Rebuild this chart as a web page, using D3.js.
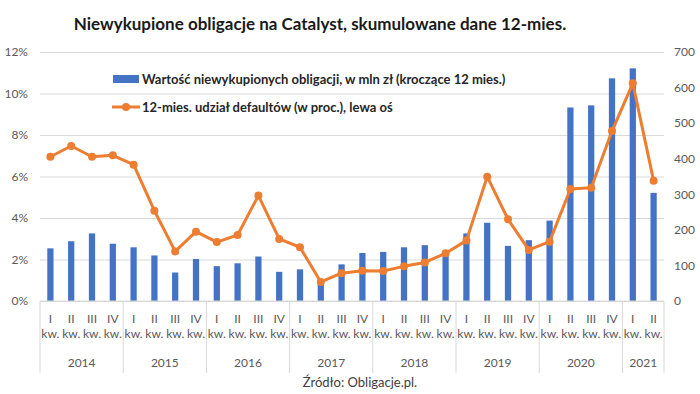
<!DOCTYPE html>
<html>
<head>
<meta charset="utf-8">
<script src="https://cdn.jsdelivr.net/npm/d3@7"></script>
<style>
    body { margin: 0; background: #fff; }
    #chart { width: 700px; height: 394px; }
    text { font-family: Lato, "Liberation Sans", sans-serif; }
</style>
</head>
<body>
<div id="chart"></div>
<script>

// quarters, 2014 I kw. .. 2021 II kw.
let categories = ["2014-I","2014-II","2014-III","2014-IV",
    "2015-I","2015-II","2015-III","2015-IV",
    "2016-I","2016-II","2016-III","2016-IV",
    "2017-I","2017-II","2017-III","2017-IV",
    "2018-I","2018-II","2018-III","2018-IV",
    "2019-I","2019-II","2019-III","2019-IV",
    "2020-I","2020-II","2020-III","2020-IV",
    "2021-I","2021-II"];

let years = ["2014","2015","2016","2017","2018","2019","2020","2021"];

// wartosc niewykupionych obligacji, mln zl (right axis)
let unpaidValues = [148,168,190,161,151,128,80,118,98,106,125,82,89,48,103,135,
    138,151,157,130,190,220,155,171,226,544,550,626,654,304];

// 12-mies. udzial defaultow, % (left axis)
let defaultShare = [6.95,7.47,6.95,7.02,6.57,4.35,2.39,3.34,2.84,3.18,5.08,2.99,2.59,0.92,1.34,1.46,
    1.45,1.67,1.86,2.30,2.91,5.99,3.94,2.46,2.86,5.40,5.46,8.19,10.49,5.80];

let leftTicks = [0,2,4,6,8,10,12];
let rightTicks = [0,100,200,300,400,500,600,700];

let titleText = "Niewykupione obligacje na Catalyst, skumulowane dane 12-mies.";
let legendBars = "Wartość niewykupionych obligacji, w mln zł (kroczące 12 mies.)";
let legendLine = "12-mies. udział defaultów (w proc.), lewa oś";
let sourceText = "Źródło: Obligacje.pl.";


class ComboVis {

    constructor(parentElement){
        this.parentElement = parentElement;
        this.initVis();
    }

    initVis(){
        let vis = this;

        vis.margin = {top: 52, right: 36, bottom: 93, left: 40};
        vis.width = 700 - vis.margin.left - vis.margin.right;
        vis.height = 394 - vis.margin.top - vis.margin.bottom;

        vis.svg = d3.select("#" + vis.parentElement).append("svg")
            .attr("width", 700)
            .attr("height", 394);

        vis.svg.append("text")
            .attr("x", 320)
            .attr("y", 30)
            .attr("text-anchor", "middle")
            .style("font-size", "17px")
            .style("font-weight", "bold")
            .style("fill", "#1a1a1a")
            .text(titleText);

        vis.g = vis.svg.append("g")
            .attr("transform", `translate(${vis.margin.left}, ${vis.margin.top})`);

        // scales
        vis.x = d3.scaleBand()
            .domain(categories)
            .range([0, vis.width])
            .paddingInner(0.7)
            .paddingOuter(0.35);

        vis.xCenter = d => vis.x(d) + vis.x.bandwidth() / 2;

        vis.yLeft = d3.scaleLinear()
            .domain([0, 12])
            .range([vis.height, 0]);

        vis.yRight = d3.scaleLinear()
            .domain([0, 700])
            .range([vis.height, 0]);

        // gridlines
        vis.g.append("g")
            .attr("class", "grid")
            .call(d3.axisLeft(vis.yLeft).tickValues(leftTicks).tickSize(-vis.width).tickFormat(""))
            .call(g => g.select(".domain").remove())
            .call(g => g.selectAll("line").attr("stroke", "#d9d9d9"));

        // left axis labels
        vis.g.append("g")
            .call(d3.axisLeft(vis.yLeft).tickValues(leftTicks).tickSize(0).tickPadding(12).tickFormat(d => d + "%"))
            .call(g => g.select(".domain").remove())
            .call(g => g.selectAll("text").style("font-size", "12px").style("fill", "#595959"));

        // right axis labels
        vis.g.append("g")
            .attr("transform", `translate(${vis.width}, 0)`)
            .call(d3.axisRight(vis.yRight).tickValues(rightTicks).tickSize(0).tickPadding(10))
            .call(g => g.select(".domain").remove())
            .call(g => g.selectAll("text").style("font-size", "12px").style("fill", "#595959"));

        // bars
        vis.g.selectAll(".bar")
            .data(unpaidValues)
            .enter().append("rect")
            .attr("class", "bar")
            .attr("x", (d, i) => vis.x(categories[i]))
            .attr("width", vis.x.bandwidth())
            .attr("y", d => vis.yRight(d))
            .attr("height", d => vis.height - vis.yRight(d))
            .style("fill", "#4472c4");

        // category axis
        vis.drawCategoryAxis();

        // line + markers
        let line = d3.line()
            .x((d, i) => vis.xCenter(categories[i]))
            .y(d => vis.yLeft(d));

        vis.g.append("path")
            .datum(defaultShare)
            .attr("d", line)
            .attr("fill", "none")
            .attr("stroke", "#ed7d31")
            .attr("stroke-width", 3)
            .attr("stroke-linejoin", "round");

        vis.g.selectAll(".dot")
            .data(defaultShare)
            .enter().append("circle")
            .attr("class", "dot")
            .attr("cx", (d, i) => vis.xCenter(categories[i]))
            .attr("cy", d => vis.yLeft(d))
            .attr("r", 4)
            .style("fill", "#ed7d31");

        vis.drawLegend();

        vis.svg.append("text")
            .attr("x", 360)
            .attr("y", 387)
            .attr("text-anchor", "middle")
            .style("font-size", "13px")
            .style("fill", "#404040")
            .text(sourceText);
    }

    drawCategoryAxis(){
        let vis = this;
        let step = vis.x.step();

        vis.g.append("line")
            .attr("x1", 0).attr("x2", vis.width)
            .attr("y1", vis.height).attr("y2", vis.height)
            .attr("stroke", "#d9d9d9");

        let labels = vis.g.append("g").attr("class", "cat-labels");

        categories.forEach(c => {
            let q = c.split("-")[1];
            labels.append("text")
                .attr("x", vis.xCenter(c))
                .attr("y", vis.height + 22)
                .attr("text-anchor", "middle")
                .style("font-size", "12px")
                .style("fill", "#595959")
                .text(q);
            labels.append("text")
                .attr("x", vis.xCenter(c))
                .attr("y", vis.height + 37)
                .attr("text-anchor", "middle")
                .style("font-size", "12px")
                .style("fill", "#595959")
                .text("kw.");
        });

        // year groups, separators at the first quarter of each year
        years.forEach(y => {
            let yearCats = categories.filter(c => c.startsWith(y));
            let x0 = vis.x(yearCats[0]) - vis.x.step() * vis.x.paddingInner() / 2;
            let x1 = vis.x(yearCats[yearCats.length - 1]) + vis.x.bandwidth() + step * vis.x.paddingInner() / 2;
            if (y === years[0]) x0 = 0;
            if (y === years[years.length - 1]) x1 = vis.width;

            labels.append("line")
                .attr("x1", x0).attr("x2", x0)
                .attr("y1", vis.height).attr("y2", vis.height + 72)
                .attr("stroke", "#d9d9d9");

            labels.append("text")
                .attr("x", (x0 + x1) / 2)
                .attr("y", vis.height + 66)
                .attr("text-anchor", "middle")
                .style("font-size", "12px")
                .style("fill", "#595959")
                .text(y);
        });

        labels.append("line")
            .attr("x1", vis.width).attr("x2", vis.width)
            .attr("y1", vis.height).attr("y2", vis.height + 72)
            .attr("stroke", "#d9d9d9");
    }

    drawLegend(){
        let vis = this;
        let legend = vis.svg.append("g").attr("class", "legend");

        legend.append("rect")
            .attr("x", 113).attr("y", 75)
            .attr("width", 26).attr("height", 8)
            .style("fill", "#4472c4");

        legend.append("text")
            .attr("x", 142).attr("y", 84)
            .style("font-size", "13px")
            .style("font-weight", "bold")
            .style("fill", "#262626")
            .text(legendBars);

        legend.append("line")
            .attr("x1", 112).attr("x2", 140)
            .attr("y1", 107).attr("y2", 107)
            .attr("stroke", "#ed7d31")
            .attr("stroke-width", 3);

        legend.append("circle")
            .attr("cx", 126).attr("cy", 107).attr("r", 4)
            .style("fill", "#ed7d31");

        legend.append("text")
            .attr("x", 142).attr("y", 112)
            .style("font-size", "13px")
            .style("font-weight", "bold")
            .style("fill", "#262626")
            .text(legendLine);
    }
}

new ComboVis("chart");

</script>
</body>
</html>
